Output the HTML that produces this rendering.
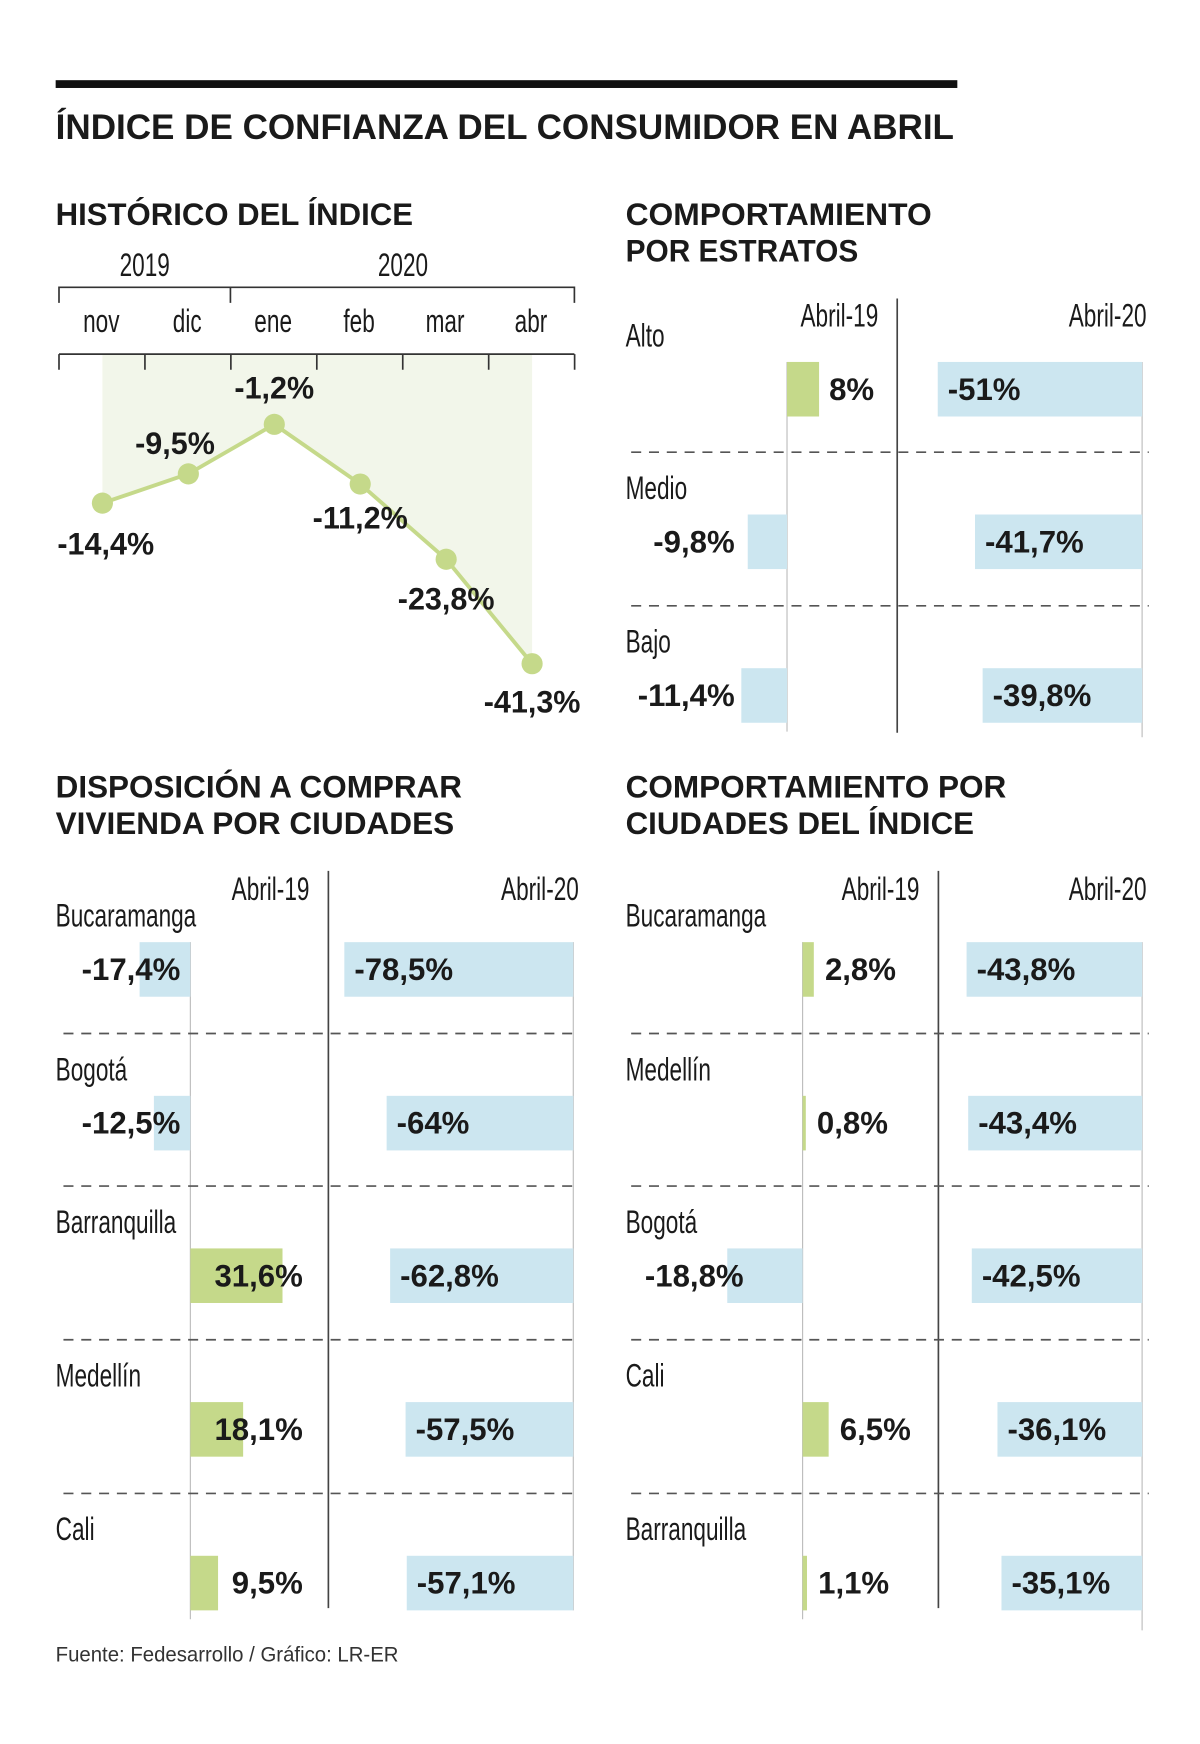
<!DOCTYPE html>
<html><head><meta charset="utf-8"><style>
html,body{margin:0;padding:0;background:#fff;}
svg{display:block;font-family:"Liberation Sans",sans-serif;}
</style></head><body>
<svg id="s" width="1200" height="1744" viewBox="0 0 1078 1566" preserveAspectRatio="none" xmlns="http://www.w3.org/2000/svg">
<rect x="0" y="0" width="1078" height="1566" fill="#fff"/>
<rect x="50" y="72" width="810" height="7" fill="#111"/>
<text x="50" y="125" font-size="32" font-weight="bold" fill="#1a1a1a" textLength="807" lengthAdjust="spacingAndGlyphs">ÍNDICE DE CONFIANZA DEL CONSUMIDOR EN ABRIL</text>
<text x="50" y="202" font-size="28" font-weight="bold" fill="#1a1a1a" textLength="321" lengthAdjust="spacingAndGlyphs">HISTÓRICO DEL ÍNDICE</text>
<text x="562" y="202" font-size="28" font-weight="bold" fill="#1a1a1a" textLength="275" lengthAdjust="spacingAndGlyphs">COMPORTAMIENTO</text>
<text x="562" y="235" font-size="28" font-weight="bold" fill="#1a1a1a" textLength="209" lengthAdjust="spacingAndGlyphs">POR ESTRATOS</text>
<text x="50" y="716" font-size="28" font-weight="bold" fill="#1a1a1a" textLength="365" lengthAdjust="spacingAndGlyphs">DISPOSICIÓN A COMPRAR</text>
<text x="50" y="749" font-size="28" font-weight="bold" fill="#1a1a1a" textLength="358" lengthAdjust="spacingAndGlyphs">VIVIENDA POR CIUDADES</text>
<text x="562" y="716" font-size="28" font-weight="bold" fill="#1a1a1a" textLength="342" lengthAdjust="spacingAndGlyphs">COMPORTAMIENTO POR</text>
<text x="562" y="749" font-size="28" font-weight="bold" fill="#1a1a1a" textLength="313" lengthAdjust="spacingAndGlyphs">CIUDADES DEL ÍNDICE</text>
<text x="50" y="1492" font-size="19" fill="#333" textLength="308" lengthAdjust="spacingAndGlyphs">Fuente: Fedesarrollo / Gráfico: LR-ER</text>
</svg>
<script>
// ---- data ----
const months = ["nov","dic","ene","feb","mar","abr"];
const histValues = [-14.4,-9.5,-1.2,-11.2,-23.8,-41.3];
const histLabels = ["-14,4%","-9,5%","-1,2%","-11,2%","-23,8%","-41,3%"];
const strata = ["Alto","Medio","Bajo"];
const strata19 = [8,-9.8,-11.4];
const strata20 = [-51,-41.7,-39.8];
const strata19Labels = ["8%","-9,8%","-11,4%"];
const strata20Labels = ["-51%","-41,7%","-39,8%"];
const housingCities = ["Bucaramanga","Bogotá","Barranquilla","Medellín","Cali"];
const housing19 = [-17.4,-12.5,31.6,18.1,9.5];
const housing20 = [-78.5,-64,-62.8,-57.5,-57.1];
const housing19Labels = ["-17,4%","-12,5%","31,6%","18,1%","9,5%"];
const housing20Labels = ["-78,5%","-64%","-62,8%","-57,5%","-57,1%"];
const idxCities = ["Bucaramanga","Medellín","Bogotá","Cali","Barranquilla"];
const idx19 = [2.8,0.8,-18.8,6.5,1.1];
const idx20 = [-43.8,-43.4,-42.5,-36.1,-35.1];
const idx19Labels = ["2,8%","0,8%","-18,8%","6,5%","1,1%"];
const idx20Labels = ["-43,8%","-43,4%","-42,5%","-36,1%","-35,1%"];

const NS="http://www.w3.org/2000/svg";
const svg=document.getElementById('s');
const GREEN="#c5d98a", BLUE="#cce6f0", INK="#1a1a1a";
function mk(tag,attrs){const e=document.createElementNS(NS,tag);for(const k in attrs)e.setAttribute(k,attrs[k]);svg.appendChild(e);return e;}
function txt(x,y,s,size,bold,anchor,factor){
  const e=mk('text',{x:x,y:y,'font-size':size,'font-weight':bold?'bold':'normal',fill:INK,'text-anchor':anchor||'start'});
  e.textContent=s;
  if(factor&&factor!==1){const l=e.getComputedTextLength();e.setAttribute('textLength',(l*factor).toFixed(1));e.setAttribute('lengthAdjust','spacingAndGlyphs');}
  return e;
}
const LF=0.70, LS=29;

// ---- history line chart ----
const xH=i=>92+i*77.2;
const yH=v=>374.6-5.36*v;
let e;
e=txt(130,248,"2019",LS,false,'middle',LF);


e=txt(362,248,"2020",LS,false,'middle',LF);


e=mk('path',{d:"M53,272V258H516V272M207,258V272",stroke:"#333","stroke-width":1.5,fill:"none"});


months.forEach((m,i)=>{
  const t=txt(xH(i)-1,298,m,LS,false,'middle',LF);
  
  
});
let area="M"+xH(0)+",318 ";
histValues.forEach((v,i)=>{area+="L"+xH(i)+","+yH(v)+" ";});
area+="L"+xH(histValues.length-1)+",318Z";
e=mk('path',{d:area,fill:"#f2f6ea"});


let ax="M53,318H516";
for(let i=0;i<7;i++){const x=53+i*77.2;ax+="M"+x+",318V332";}
e=mk('path',{d:ax,stroke:"#333","stroke-width":1.5,fill:"none"});


e=mk('polyline',{points:histValues.map((v,i)=>xH(i)+","+yH(v)).join(" "),fill:"none",stroke:GREEN,"stroke-width":3.5});


const lblOff=[[3,46],[-12,-18],[0,-23],[0,40],[0,45],[0,44]];
histValues.forEach((v,i)=>{
  const c=mk('circle',{cx:xH(i),cy:yH(v),r:9.5,fill:GREEN});
  
  
  const t=txt(xH(i)+lblOff[i][0],yH(v)+lblOff[i][1],histLabels[i],28,true,'middle',0.98);
  
  
});

// ---- generic bar panel ----
function panel(opt){
  const {names,v19,v20,l19,l20,base19,base20,divX,hdr19,hdr20,dashX1,dashX2,rowY,scale,prefix,neg19End,pos19}=opt;
  let t=txt(hdr19,opt.hdrY,"Abril-19",LS,false,'end',LF);
  
  
  t=txt(hdr20,opt.hdrY,"Abril-20",LS,false,'end',LF);
  
  
  const bottom=rowY[rowY.length-1]+49;
  let l=mk('line',{x1:base19,y1:rowY[0],x2:base19,y2:bottom+8,stroke:"#bbb","stroke-width":1});
  
  
  l=mk('line',{x1:base20,y1:rowY[0],x2:base20,y2:bottom+opt.ext20,stroke:"#bbb","stroke-width":1});
  
  
  l=mk('line',{x1:divX,y1:opt.divTop,x2:divX,y2:bottom+opt.divExt,stroke:"#444","stroke-width":1.5});
  
  
  names.forEach((n,i)=>{
    const y=rowY[i];
    if(i>0){const d=mk('line',{x1:dashX1,y1:y-56,x2:dashX2,y2:y-56,stroke:"#555","stroke-width":1.5,"stroke-dasharray":"9,7"});
      
      }
    const nl=txt(opt.labelX,y-14,n,LS,false,'start',LF);
    
    
    const a=v19[i], w=Math.abs(a)*scale;
    const b1=mk('rect',{x:a>=0?base19:base19-w,y:y,width:w,height:49,fill:a>=0?GREEN:BLUE});
    
    
    let lt;
    if(a<0) lt=txt(neg19End,y+34,l19[i],28,true,'end');
    else lt=pos19(a,w,y,l19[i]);
    
    
    const c=v20[i], w2=Math.abs(c)*scale;
    const b2=mk('rect',{x:base20-w2,y:y,width:w2,height:49,fill:BLUE});
    
    
    const l2=txt(base20-w2+9,y+34,l20[i],28,true,'start');
    
    
  });
}
panel({names:strata,v19:strata19,v20:strata20,l19:strata19Labels,l20:strata20Labels,labelX:562,
  base19:707,base20:1026,divX:806,divTop:268,divExt:9,ext20:13,hdr19:789,hdr20:1030,hdrY:293,
  dashX1:567,dashX2:1032,rowY:[325,462,600],scale:3.6,prefix:'strata',neg19End:660,
  pos19:(a,w,y,s)=>txt(707+w+9,y+34,s,28,true,'start')});
panel({names:housingCities,v19:housing19,v20:housing20,l19:housing19Labels,l20:housing20Labels,labelX:50,
  base19:171,base20:515,divX:295,divTop:782,divExt:-2,ext20:0,hdr19:278,hdr20:520,hdrY:808,
  dashX1:57,dashX2:520,rowY:[846,984,1121,1259,1397],scale:2.62,prefix:'housing',neg19End:162,
  pos19:(a,w,y,s)=>{const x=Math.max(171+w+12,272);return txt(x,y+34,s,28,true,x===272?'end':'start');}});
panel({names:idxCities,v19:idx19,v20:idx20,l19:idx19Labels,l20:idx20Labels,labelX:562,
  base19:721,base20:1026,divX:843,divTop:782,divExt:-2,ext20:18,hdr19:826,hdr20:1030,hdrY:808,
  dashX1:567,dashX2:1032,rowY:[846,984,1121,1259,1397],scale:3.6,prefix:'cities',neg19End:668,
  pos19:(a,w,y,s)=>txt(721+w+10,y+34,s,28,true,'start')});
</script>
</body></html>
